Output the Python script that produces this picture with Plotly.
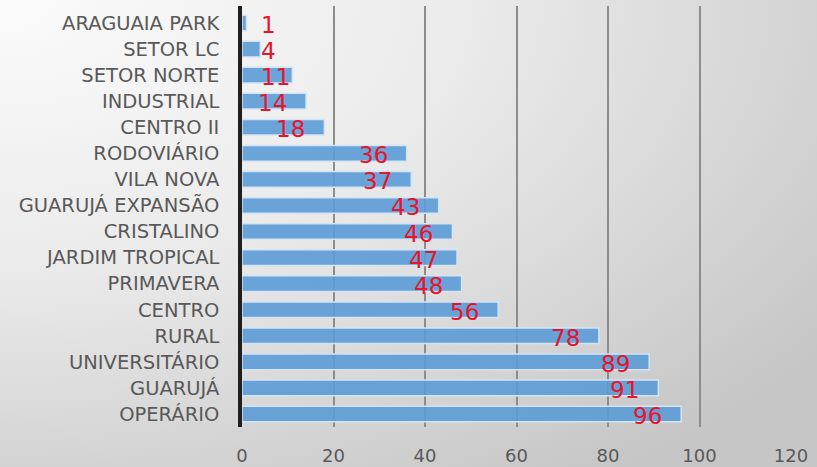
import base64
import plotly.graph_objects as go

bairros = ["ARAGUAIA PARK", "SETOR LC", "SETOR NORTE", "INDUSTRIAL", "CENTRO II",
           "RODOVIÁRIO", "VILA NOVA", "GUARUJÁ EXPANSÃO", "CRISTALINO",
           "JARDIM TROPICAL", "PRIMAVERA", "CENTRO", "RURAL", "UNIVERSITÁRIO",
           "GUARUJÁ", "OPERÁRIO"]
valores = [1, 4, 11, 14, 18, 36, 37, 43, 46, 47, 48, 56, 78, 89, 91, 96]
x_ticks = [0, 20, 40, 60, 80, 100, 120]

W, H = 817, 467
ML, MR, MT, MB = 242, 26, 6, 40
PW, PH = W - ML - MR, H - MT - MB
XMAX = 120

svg = f'''<svg xmlns="http://www.w3.org/2000/svg" width="{W}" height="{H}" viewBox="0 0 {W} {H}" preserveAspectRatio="none">
<defs><radialGradient id="g" cx="0" cy="0" r="1.25" gradientUnits="objectBoundingBox">
<stop offset="0" stop-color="#fbfbfb"/><stop offset="0.45" stop-color="#ebebeb"/>
<stop offset="1" stop-color="#c6c6c6"/></radialGradient></defs>
<rect width="{W}" height="{H}" fill="url(#g)"/></svg>'''
bg = "data:image/svg+xml;base64," + base64.b64encode(svg.encode()).decode()

fig = go.Figure()
fig.add_trace(go.Bar(
    y=bairros, x=valores, orientation="h",
    marker=dict(color="rgba(91,155,213,0.9)", line=dict(color="#d3e4f4", width=1.5)),
    hoverinfo="skip",
))

px_per_unit = PW / XMAX
label_font = dict(family="DejaVu Sans", size=23, color="#e8142c")
annotations = []
for b, v in zip(bairros, valores):
    txt = str(v)
    tw = 15 * len(txt)
    if v * px_per_unit - 17 - tw < 17:
        annotations.append(dict(x=0, y=b, xref="x", yref="y", text=txt, showarrow=False,
                                xanchor="left", xshift=17, yshift=-2, font=label_font))
    else:
        annotations.append(dict(x=v, y=b, xref="x", yref="y", text=txt, showarrow=False,
                                xanchor="right", xshift=-17, yshift=-2, font=label_font))

fig.update_layout(
    width=W, height=H,
    margin=dict(l=ML, r=MR, t=MT, b=MB, autoexpand=False),
    paper_bgcolor="#e6e6e6", plot_bgcolor="rgba(0,0,0,0)",
    showlegend=False, bargap=0.4,
    images=[dict(source=bg, xref="paper", yref="paper",
                 x=-ML / PW, y=1 + MT / PH, sizex=W / PW, sizey=H / PH,
                 xanchor="left", yanchor="top", sizing="stretch", layer="below")],
    annotations=annotations,
    xaxis=dict(range=[0, XMAX], tickvals=x_ticks, showgrid=True, gridcolor="#8c8c8c",
               gridwidth=1.5, zeroline=False,
               showline=False, ticks="outside", ticklen=12, tickcolor="rgba(0,0,0,0)",
               tickfont=dict(family="DejaVu Sans", size=18, color="#595959"), fixedrange=True),
    yaxis=dict(categoryorder="array", categoryarray=bairros, autorange="reversed",
               showgrid=False, zeroline=False,
               showline=True, linecolor="#1f1f1f", linewidth=3.5, layer="above traces",
               ticks="outside", ticklen=15, tickcolor="rgba(0,0,0,0)",
               tickfont=dict(family="DejaVu Sans", size=19.5, color="#595959"), fixedrange=True),
)

fig.write_html("out.html", config={"displayModeBar": False},
               post_script="document.body.style.margin='0';document.body.style.padding='0';")
